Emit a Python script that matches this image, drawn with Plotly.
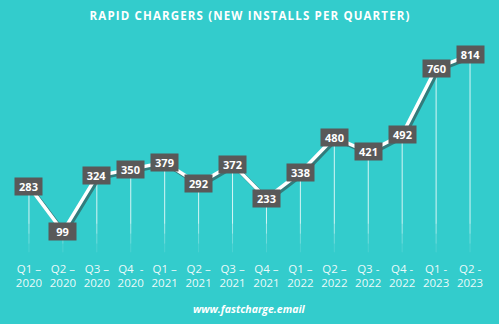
import plotly.graph_objects as go

quarters = ["Q1 –<br>2020", "Q2 –<br>2020", "Q3 –<br>2020", "Q4  -<br>2020",
            "Q1 –<br>2021", "Q2 –<br>2021", "Q3 –<br>2021", "Q4 –<br>2021",
            "Q1 –<br>2022", "Q2 –<br>2022", "Q3 -<br>2022", "Q4 -<br>2022",
            "Q1 -<br>2023", "Q2 -<br>2023"]
installs = [283, 99, 324, 350, 379, 292, 372, 233, 338, 480, 421, 492, 760, 814]

BG = "#33CCCC"
BOX = "#595959"
W, H = 499, 324
M_L, M_R, M_T, M_B = 12, 12, 46, 68
Y_MAX = 850
SHADOW_PX = 2

x_idx = list(range(len(installs)))
pw = W - M_L - M_R
ph = H - M_T - M_B
x_range = [-0.5, len(installs) - 0.5]
dx_val = SHADOW_PX / pw * (x_range[1] - x_range[0])
dy_val = SHADOW_PX / ph * Y_MAX

fig = go.Figure()

# drop lines from each point down to the axis, fading toward the bottom
fade_bands = [(130, None, 0.8), (90, 130, 0.55), (50, 90, 0.3), (15, 50, 0.12)]
for lo, hi, op in fade_bands:
    xs, ys = [], []
    for i, v in enumerate(installs):
        top = v if hi is None else min(v, hi)
        if top > lo:
            xs += [i, i, None]
            ys += [lo, top, None]
    fig.add_trace(go.Scatter(x=xs, y=ys, mode="lines", hoverinfo="skip",
                             line=dict(color=f"rgba(255,255,255,{op})", width=1),
                             showlegend=False))

# soft shadow under the main line (axes offset down-right by a couple of px)
fig.add_trace(go.Scatter(x=x_idx, y=installs, mode="lines", xaxis="x2", yaxis="y2",
                         line=dict(color="rgba(50,70,70,0.6)", width=4),
                         hoverinfo="skip", showlegend=False))
# main white line
fig.add_trace(go.Scatter(x=x_idx, y=installs, mode="lines", xaxis="x3", yaxis="y3",
                         line=dict(color="white", width=3.5),
                         showlegend=False))

annotations = []
for i, v in enumerate(installs):
    annotations.append(dict(x=i, y=v, xref="x3", yref="y3", text=f"<b>{v}</b>",
                            showarrow=False,
                            font=dict(family="Open Sans", size=11, color="white"),
                            bgcolor=BOX, borderpad=2, width=23, height=13))

annotations.append(dict(text="<b><i>www.fastcharge.email</i></b>", xref="paper",
                        yref="paper", x=0.5, y=-(309 - (H - M_B)) / ph,
                        xanchor="center", yanchor="middle", showarrow=False,
                        font=dict(family="Open Sans", size=10.5, color="white")))

title_text = "RAPID CHARGERS (NEW INSTALLS PER QUARTER)"
spaced_title = "\u200a".join(title_text)

hidden = dict(visible=False, showgrid=False, zeroline=False)
fig.update_layout(
    width=W, height=H,
    margin=dict(l=M_L, r=M_R, t=M_T, b=M_B),
    paper_bgcolor=BG, plot_bgcolor=BG,
    title=dict(text=f"<b>{spaced_title}</b>",
               x=0.5, xanchor="center", y=1 - 16 / H, yanchor="middle",
               font=dict(family="Open Sans", size=11.5, color="white")),
    xaxis=dict(range=x_range, tickmode="array",
               tickvals=x_idx, ticktext=quarters, showgrid=False,
               zeroline=False, showline=False, ticks="", ticklabelstandoff=4,
               tickfont=dict(family="Open Sans", size=11.5,
                             color="rgba(255,255,255,0.92)")),
    yaxis=dict(range=[0, Y_MAX], **hidden),
    xaxis2=dict(range=[x_range[0] - dx_val, x_range[1] - dx_val],
                overlaying="x", **hidden),
    yaxis2=dict(range=[dy_val, Y_MAX + dy_val], overlaying="y", anchor="x2", **hidden),
    xaxis3=dict(range=x_range, overlaying="x", **hidden),
    yaxis3=dict(range=[0, Y_MAX], overlaying="y", anchor="x3", **hidden),
    annotations=annotations,
)

fig.write_html("out.html")
